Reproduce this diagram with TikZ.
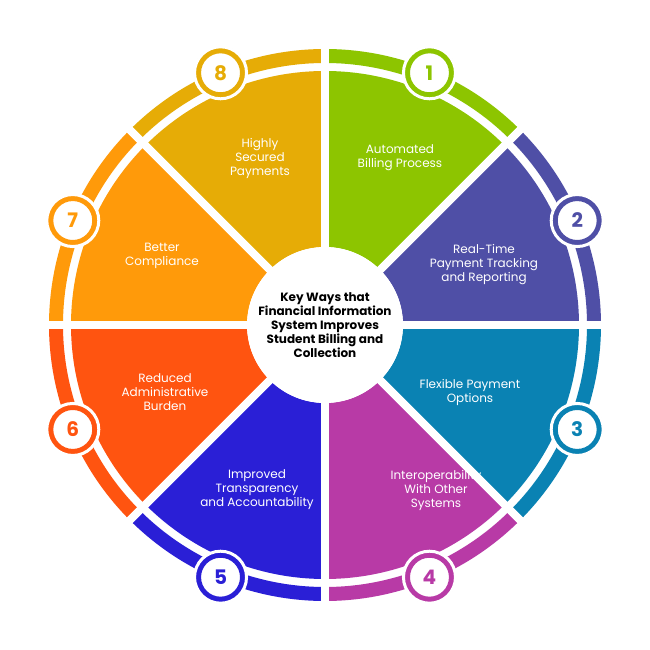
\documentclass[tikz,border=0pt]{standalone}
\usepackage{fontspec}
\setmainfont{Poppins}
\definecolor{cOne}{HTML}{8DC500}
\definecolor{cTwo}{HTML}{4F4FA6}
\definecolor{cThree}{HTML}{0A82B3}
\definecolor{cFour}{HTML}{B83AA6}
\definecolor{cFive}{HTML}{2A1FD6}
\definecolor{cSix}{HTML}{FF5410}
\definecolor{cSeven}{HTML}{FF9A0A}
\definecolor{cEight}{HTML}{E6AC06}
\begin{document}
\begin{tikzpicture}[x=1pt, y=1pt,
    label/.style={text=white, font=\fontsize{12}{14}\selectfont, align=center},
    badge/.style={circle, draw=#1, line width=3.5pt, fill=white, minimum size=46pt, inner sep=0pt, text=#1, font=\fontsize{20}{22}\selectfont\bfseries}]
  \useasboundingbox[fill=white] (-325,-325) rectangle (325,325);

  % sectors and outer bands
  \foreach \c [count=\i] in {cOne,cTwo,cThree,cFour,cFive,cSix,cSeven,cEight} {
    \pgfmathsetmacro{\a}{90-45*\i}
    \fill[\c] (\a:78) arc (\a:\a+45:78) -- (\a+45:254) arc (\a+45:\a:254) -- cycle;
    \fill[\c] (\a:262) arc (\a:\a+45:262) -- (\a+45:276) arc (\a+45:\a:276) -- cycle;
  }
  % white gaps
  \foreach \a in {0,45,...,315}
    \draw[white, line width=8pt] (0,0) -- (\a:290);

  % centre
  \node[circle, fill=white, minimum size=156pt, inner sep=0pt, align=center,
        font=\fontsize{12}{14}\selectfont\bfseries] (hub) at (0,0)
        {Key Ways that\\Financial Information\\System Improves\\Student Billing and\\Collection};

  % badges
  \foreach \c [count=\i] in {cOne,cTwo,cThree,cFour,cFive,cSix,cSeven,cEight}
    \node[badge=\c, draw=\c, double=white, double distance=0pt] (n\i) at (112.5-45*\i:273) {\i};
  \foreach \i in {1,...,8}
    \draw[white, line width=3pt] (n\i) circle (26pt);

  % texts
  \node[label] (t1) at (75,167) {Automated\\Billing Process};
  \node[label] (t2) at (159,60) {Real-Time\\Payment Tracking\\and Reporting};
  \node[label] (t3) at (145,-67) {Flexible Payment\\Options};
  \node[label] (t4) at (111,-165) {Interoperability\\With Other\\Systems};
  \node[label] (t5) at (-68,-165) {Improved\\Transparency\\and Accountability};
  \node[label] (t6) at (-160,-67) {Reduced\\Administrative\\Burden};
  \node[label] (t7) at (-163,69) {Better\\Compliance};
  \node[label] (t8) at (-65,167) {Highly\\Secured\\Payments};
\end{tikzpicture}
\end{document}
